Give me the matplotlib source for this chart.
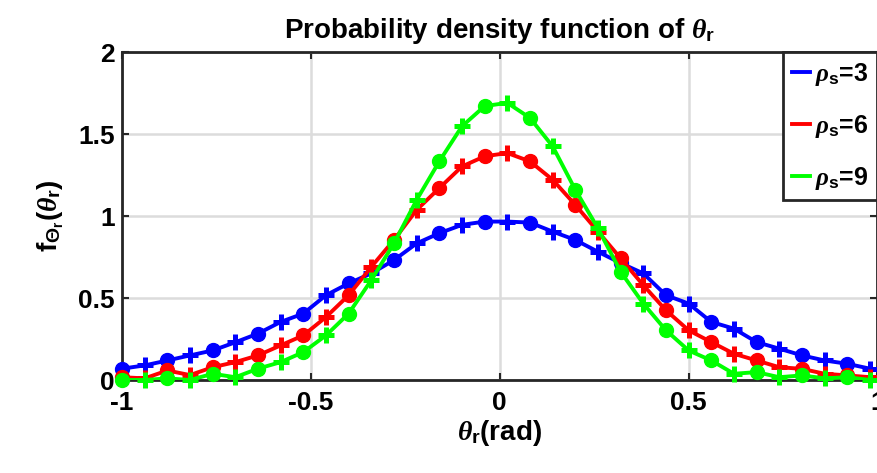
#!/usr/bin/env python3
"""Recreate the PDF-of-theta_r figure (three rho_s curves)."""
import numpy as np
import matplotlib

matplotlib.use("Agg")
import matplotlib.pyplot as plt

# theta grid -1:0.06:0.98 (34 samples)
theta = [-1.00, -0.94, -0.88, -0.82, -0.76, -0.70, -0.64, -0.58, -0.52, -0.46,
         -0.40, -0.34, -0.28, -0.22, -0.16, -0.10, -0.04, 0.02, 0.08, 0.14,
         0.20, 0.26, 0.32, 0.38, 0.44, 0.50, 0.56, 0.62, 0.68, 0.74,
         0.80, 0.86, 0.92, 0.98]

pdf_rho3 = [0.069, 0.089, 0.119, 0.150, 0.180, 0.230, 0.283, 0.354, 0.405, 0.517,
            0.589, 0.650, 0.731, 0.833, 0.895, 0.946, 0.966, 0.966, 0.960, 0.905,
            0.854, 0.782, 0.713, 0.650, 0.517, 0.466, 0.354, 0.313, 0.231, 0.191,
            0.150, 0.119, 0.099, 0.069]
pdf_rho6 = [0.017, 0.010, 0.058, 0.030, 0.078, 0.109, 0.150, 0.211, 0.272, 0.384,
            0.517, 0.690, 0.854, 1.037, 1.170, 1.302, 1.364, 1.384, 1.333, 1.221,
            1.068, 0.905, 0.742, 0.578, 0.425, 0.303, 0.231, 0.160, 0.119, 0.078,
            0.068, 0.038, 0.028, 0.017]
pdf_rho9 = [0.000, 0.000, 0.010, 0.000, 0.038, 0.017, 0.069, 0.109, 0.170, 0.272,
            0.405, 0.609, 0.833, 1.098, 1.333, 1.547, 1.670, 1.690, 1.598, 1.425,
            1.160, 0.925, 0.660, 0.466, 0.303, 0.180, 0.119, 0.038, 0.048, 0.017,
            0.028, 0.010, 0.017, 0.000]

labels = [r"$\rho_\mathrm{s}$=3", r"$\rho_\mathrm{s}$=6", r"$\rho_\mathrm{s}$=9"]
colors = ["#0000ff", "#ff0000", "#00ff00"]

plt.rcParams["font.family"] = ["Liberation Sans", "DejaVu Sans"]
plt.rcParams["font.weight"] = "bold"
plt.rcParams["mathtext.fontset"] = "custom"
plt.rcParams["mathtext.rm"] = "Liberation Sans:bold"
plt.rcParams["mathtext.bf"] = "Liberation Sans:bold"
plt.rcParams["mathtext.it"] = "Liberation Serif:italic"

fig = plt.figure(figsize=(8.78, 4.73), dpi=100)
ax = fig.add_axes([122 / 878, 93 / 473, 755.5 / 878, 328 / 473])

x = np.array(theta)
lines = []
for y, c, lab in zip((pdf_rho3, pdf_rho6, pdf_rho9), colors, labels):
    y = np.array(y)
    ln, = ax.plot(x, y, "-", color=c, lw=2.8, label=lab, zorder=3)
    ax.plot(x[::2], y[::2], "o", color=c, ms=10, mec=c, clip_on=False, zorder=3)
    ax.plot(x[1::2], y[1::2], "+", color=c, ms=12, mew=3.6, clip_on=False,
            zorder=3)
    lines.append(ln)

ax.set_xlim(-1, 1)
ax.set_ylim(0, 2)
ax.set_xticks([-1, -0.5, 0, 0.5, 1])
ax.set_xticklabels(["-1", "-0.5", "0", "0.5", "1"])
ax.set_yticks([0, 0.5, 1, 1.5, 2])
ax.set_yticklabels(["0", "0.5", "1", "1.5", "2"])
ax.tick_params(direction="in", top=True, right=True, length=5, width=1.5,
               labelsize=19, color="#262626")
ax.tick_params(axis="x", pad=8)
ax.tick_params(axis="y", pad=5)
ax.grid(True, color="#dcdcdc", lw=1.8)
ax.set_axisbelow(True)
for sp in ax.spines.values():
    sp.set_linewidth(2.0)
    sp.set_color("#262626")

ax.set_title(r"Probability density function of $\theta_\mathrm{r}$",
             fontsize=20, fontweight="bold", pad=10)
ax.set_xlabel(r"$\theta_\mathrm{r}$(rad)", fontsize=20, fontweight="bold",
              labelpad=2)
ax.set_ylabel(r"$\mathrm{f}_{\Theta_\mathrm{r}}(\theta_\mathrm{r})$",
              fontsize=20, fontweight="bold", labelpad=9)

leg = ax.legend(handles=lines, loc="upper right", fontsize=18,
                handlelength=0.75, handletextpad=0.2, borderpad=0.35,
                labelspacing=1.0, borderaxespad=0.0, fancybox=False,
                framealpha=1, edgecolor="#262626")
leg.get_frame().set_linewidth(2.0)

fig.savefig("out.png", dpi=100)
